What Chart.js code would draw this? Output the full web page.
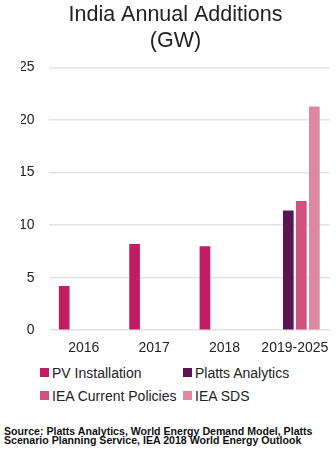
<!DOCTYPE html>
<html>
<head>
<meta charset="utf-8">
<script src="https://cdn.jsdelivr.net/npm/chart.js@4/dist/chart.umd.min.js"></script>
<style>
  body { margin: 0; background: #fff; font-family: "Liberation Sans", Arial, sans-serif; }
  #wrap { position: relative; width: 336px; height: 455px; }
  #chartBox { position: absolute; left: 0; top: 0; width: 336px; height: 359px; }
  #legend { position: absolute; left: 40px; top: 364px; display: grid; grid-template-columns: 143px 150px; row-gap: 6px; }
  .item { display: flex; align-items: center; font-size: 14px; color: #222; height: 17px; white-space: nowrap; }
  .box { width: 9px; height: 9px; margin-right: 3px; }
  #source { position: absolute; left: 4px; top: 427px; font-size: 10.6px; font-weight: bold; line-height: 8.8px; color: #111; }
</style>
</head>
<body>
<div id="wrap">
  <div id="chartBox"><canvas id="additions"></canvas></div>
  <div id="legend"></div>
  <div id="source">Source: Platts Analytics, World Energy Demand Model, Platts<br>Scenario Planning Service, IEA 2018 World Energy Outlook</div>
</div>
<script>
const periods = ['2016', '2017', '2018', '2019-2025'] // kategorie
const pvInstalled = [4.2, 8.2, 8.0, null]
const plattsAnalytics = [null, null, null, 11.4]
const ieaCurrentPolicies = [null, null, null, 12.3]
const ieaSds = [null, null, null, 21.3]
const yTicks = [0, 5, 10, 15, 20, 25]

const seriesNames = ['PV Installation', 'Platts Analytics', 'IEA Current Policies', 'IEA SDS']
const seriesColors = ['#C41C63', '#5A1550', '#D1517F', '#DD88A0']
const seriesData = [pvInstalled, plattsAnalytics, ieaCurrentPolicies, ieaSds]

Chart.defaults.font.family = '"Liberation Sans", Arial, sans-serif'
Chart.defaults.color = '#222'

const datasets = seriesNames.map((name, i) => ({
  label: name,
  data: seriesData[i],
  backgroundColor: seriesColors[i],
  borderWidth: 0,
  categoryPercentage: 0.74,
  barPercentage: 0.82,
}))

new Chart(document.getElementById('additions'), {
  type: 'bar',
  data: { labels: periods, datasets: datasets },
  options: {
    responsive: true,
    maintainAspectRatio: false,
    animation: false,
    layout: { padding: { left: 21, right: 6, top: 2 } },
    plugins: {
      legend: { display: false },
      tooltip: { enabled: false },
      title: {
        display: true,
        text: ['India Annual Additions', '(GW)'],
        font: { size: 21.5, weight: 'normal' },
        lineHeight: 1.26,
        color: '#222',
        padding: { top: 0, bottom: 14 },
      },
    },
    scales: {
      x: {
        grid: { display: false },
        border: { display: false },
        ticks: { font: { size: 14 }, color: '#222', padding: 2, maxRotation: 0, autoSkip: false },
      },
      y: {
        min: 0,
        max: 25,
        afterBuildTicks: axis => { axis.ticks = yTicks.map(v => ({ value: v })) },
        afterFit: axis => { axis.width -= 16 }, // popisky osy Y přesahují do levého okraje
        grid: { color: '#e3e3e3', lineWidth: 1.5, drawTicks: false },
        border: { display: false },
        ticks: { font: { size: 14 }, color: '#222', padding: 14 },
      },
    },
  },
})

// legenda ve dvou sloupcích
const legend = document.getElementById('legend')
seriesNames.forEach((name, i) => {
  const item = document.createElement('div')
  item.className = 'item'
  item.innerHTML = '<span class="box" style="background:' + seriesColors[i] + '"></span>' + name
  legend.appendChild(item)
})
</script>
</body>
</html>
